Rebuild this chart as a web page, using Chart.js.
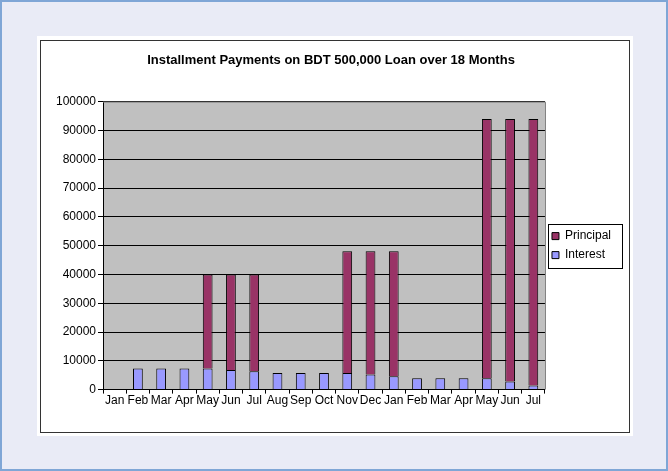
<!DOCTYPE html>
<html>
<head>
<meta charset="utf-8">
<script src="https://cdn.jsdelivr.net/npm/chart.js@4.4.0/dist/chart.umd.min.js"></script>
<style>
    html, body { margin: 0; padding: 0; }
    body {
        width: 664px; height: 467px;
        background: #e9ebf6;
        border: 2px solid #7fa6d6;
        position: relative;
    }
    #sheet {
        position: absolute; left: 35px; top: 34px;
        width: 596px; height: 400px;
        background: #fff;
    }
    #frame {
        position: absolute; left: 3px; top: 4px;
        width: 588px; height: 391px;
        border: 1px solid #333;
    }
</style>
</head>
<body>
<div id="sheet"><div id="frame"><canvas id="loan_chart" width="588" height="391"></canvas></div></div>
<script>
"use strict";

var mois = ["Jan", "Feb", "Mar", "Apr", "May", "Jun", "Jul", "Aug", "Sep", "Oct",
            "Nov", "Dec", "Jan", "Feb", "Mar", "Apr", "May", "Jun", "Jul"];
var interet = [null, 7300, 7300, 7300, 7300, 6800, 6400, 5800, 5800, 5800,
               5800, 5200, 4600, 3900, 3900, 3900, 3900, 2800, 1400];
var principal = [null, 0, 0, 0, 32700, 33200, 33600, 0, 0, 0,
                 42200, 42800, 43400, 0, 0, 0, 90100, 91200, 92600];
var graduations = [0, 10000, 20000, 30000, 40000, 50000, 60000, 70000, 80000, 90000, 100000];

// fond gris de la zone de tracé + cadre autour de la légende
var fondPlugin = {
    id: 'fond',
    beforeDraw: function (chart) {
        var ctx = chart.ctx, a = chart.chartArea;
        ctx.save();
        ctx.fillStyle = '#c0c0c0';
        ctx.fillRect(a.left, a.top, a.right - a.left, a.bottom - a.top);
        ctx.restore();
    },
    afterDraw: function (chart) {
        var ctx = chart.ctx, a = chart.chartArea;
        ctx.save();
        ctx.strokeStyle = '#808080';
        ctx.lineWidth = 1;
        ctx.beginPath();
        ctx.moveTo(a.left, a.top + 0.5);
        ctx.lineTo(a.right + 0.5, a.top + 0.5);
        ctx.lineTo(a.right + 0.5, a.bottom);
        ctx.stroke();
        var boites = chart.legend.legendHitBoxes;
        if (boites && boites.length) {
            var x0 = Infinity, y0 = Infinity, y1 = -Infinity;
            boites.forEach(function (b) {
                x0 = Math.min(x0, b.left); y0 = Math.min(y0, b.top);
                y1 = Math.max(y1, b.top + b.height);
            });
            ctx.strokeStyle = '#000';
            ctx.strokeRect(Math.round(x0 - 4) + 0.5, Math.round(y0 - 6) + 0.5,
                           Math.round(chart.legend.right + 1 - (x0 - 4)), Math.round(y1 - y0 + 13));
        }
        ctx.restore();
    }
};

var donnee = principal.map(function (v) {
    return v === 0 ? null : v;
});

new Chart(document.getElementById("loan_chart").getContext("2d"), {
    type: 'bar',
    data: {
        labels: mois,
        datasets: [{
            label: "Interest",
            data: interet,
            backgroundColor: '#9999ff',
            borderColor: '#000',
            borderWidth: 1,
            barPercentage: 0.42,
            categoryPercentage: 1
        }, {
            label: "Principal",
            data: donnee,
            backgroundColor: '#993366',
            borderColor: '#000',
            borderWidth: 1,
            barPercentage: 0.42,
            categoryPercentage: 1
        }]
    },
    options: {
        responsive: false,
        animation: false,
        layout: { padding: { left: 0, right: 8, top: 8, bottom: 24 } },
        font: { family: 'Arial, "Liberation Sans", sans-serif', size: 12 },
        plugins: {
            title: {
                display: true,
                text: "Installment Payments on BDT 500,000 Loan over 18 Months",
                color: '#000',
                font: { family: 'Arial, "Liberation Sans", sans-serif', size: 13, weight: 'bold' },
                padding: { top: 4, bottom: 33 }
            },
            legend: {
                position: 'right',
                fullSize: false,
                reverse: true,
                labels: {
                    color: '#000',
                    boxWidth: 7,
                    boxHeight: 7,
                    padding: 7,
                    font: { family: 'Arial, "Liberation Sans", sans-serif', size: 12 }
                }
            },
            tooltip: { enabled: false }
        },
        scales: {
            x: {
                stacked: true,
                grid: { drawOnChartArea: false, drawTicks: true, tickLength: 4, offset: true, color: '#000' },
                border: { color: '#000' },
                ticks: {
                    color: '#000',
                    autoSkip: false,
                    maxRotation: 0,
                    padding: 0,
                    font: { family: 'Arial, "Liberation Sans", sans-serif', size: 12 }
                }
            },
            y: {
                stacked: true,
                min: 0,
                max: 100000,
                afterBuildTicks: function (axis) {
                    axis.ticks = graduations.map(function (v) { return { value: v }; });
                },
                afterFit: function (axis) { axis.width = 62; },
                grid: { color: '#000', tickLength: 5, drawTicks: true },
                border: { color: '#000' },
                ticks: {
                    color: '#000',
                    padding: 2,
                    callback: function (v) { return String(v); },
                    font: { family: 'Arial, "Liberation Sans", sans-serif', size: 12 }
                }
            }
        }
    },
    plugins: [fondPlugin]
});
</script>
</body>
</html>
